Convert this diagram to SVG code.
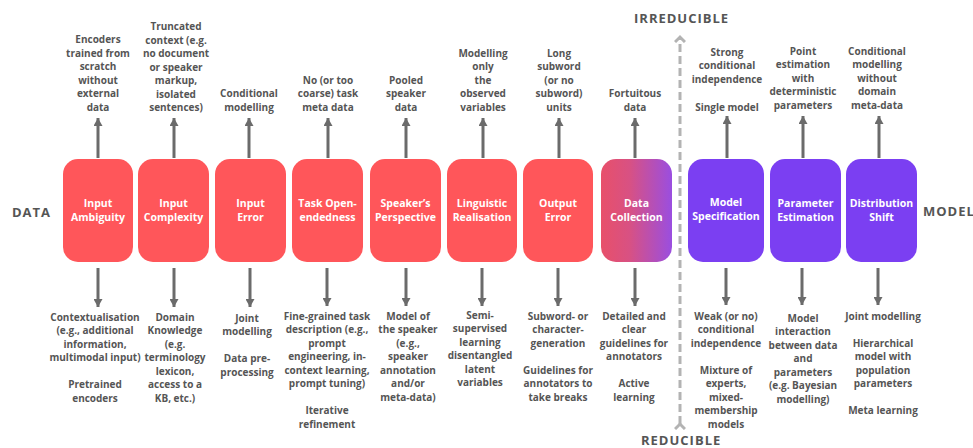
<svg xmlns="http://www.w3.org/2000/svg" width="973" height="448" viewBox="0 0 973 448">
  <style>
    .box { rx: 15; ry: 15; }
    .red { fill: #ff565a; }
    .purple { fill: #7b3ff2; }
    .nt { font-family: "Open Sans", "Liberation Sans", sans-serif; font-weight: 700; font-size: 10.5px; fill: #ffffff; text-anchor: middle; }
    .lb { font-family: "Open Sans", "Liberation Sans", sans-serif; font-weight: 700; font-size: 10px; fill: #555555; text-anchor: middle; }
    .axis { font-family: "Open Sans", "Liberation Sans", sans-serif; font-weight: 700; font-size: 13px; fill: #555555; letter-spacing: 1px; }
    .conn line { stroke: #6b6b6b; stroke-width: 3; marker-end: url(#ah); }
    .divider { stroke: #b3b3b3; stroke-width: 3; stroke-dasharray: 8 4; fill: none; }
  </style>
  <defs>
    <marker id="ah" markerUnits="userSpaceOnUse" markerWidth="10" markerHeight="9" refX="8" refY="4.5" orient="auto">
      <path d="M0,0 L8,4.5 L0,9 z" fill="#6b6b6b"/>
    </marker>
    <marker id="ahLight" markerUnits="userSpaceOnUse" markerWidth="12" markerHeight="12" refX="6" refY="6" orient="auto">
      <path d="M1,1 L6,6 L1,11" fill="none" stroke="#b3b3b3" stroke-width="3"/>
    </marker>
    <linearGradient id="gradCollect" x1="0" y1="0" x2="1" y2="0">
      <stop offset="0" stop-color="#e8506a"/>
      <stop offset="0.4" stop-color="#d85183"/>
      <stop offset="1" stop-color="#9a4ee0"/>
    </linearGradient>
  </defs>

  <!-- axis labels -->
  <text class="axis" x="12" y="217">DATA</text>
  <text class="axis" x="923" y="216">MODEL</text>
  <text class="axis" x="634" y="23">IRREDUCIBLE</text>
  <text class="axis" x="641" y="445">REDUCIBLE</text>

  <!-- reducible / irreducible divider -->
  <g id="divider">
    <line class="divider" x1="680" y1="424" x2="680" y2="37" marker-end="url(#ahLight)" marker-start="url(#ahLight)"/>
  </g>

  <!-- connectors -->
  <g class="conn" id="connectors">
    <line x1="98" y1="158" x2="98" y2="118"/>
    <line x1="174" y1="158" x2="174" y2="118"/>
    <line x1="249" y1="158" x2="249" y2="118"/>
    <line x1="328" y1="158" x2="328" y2="118"/>
    <line x1="406" y1="158" x2="406" y2="118"/>
    <line x1="483" y1="158" x2="483" y2="118"/>
    <line x1="559" y1="158" x2="559" y2="118"/>
    <line x1="635" y1="158" x2="635" y2="118"/>
    <line x1="727" y1="158" x2="727" y2="116"/>
    <line x1="803" y1="158" x2="803" y2="116"/>
    <line x1="879" y1="158" x2="879" y2="116"/>

    <line x1="98" y1="268" x2="98" y2="307"/>
    <line x1="174" y1="268" x2="174" y2="307"/>
    <line x1="250" y1="268" x2="250" y2="307"/>
    <line x1="327" y1="268" x2="327" y2="306"/>
    <line x1="406" y1="268" x2="406" y2="306"/>
    <line x1="482" y1="268" x2="482" y2="306"/>
    <line x1="558" y1="268" x2="558" y2="306"/>
    <line x1="635" y1="268" x2="635" y2="306"/>
    <line x1="726" y1="268" x2="726" y2="305"/>
    <line x1="802" y1="268" x2="802" y2="305"/>
    <line x1="878" y1="268" x2="878" y2="305"/>
  </g>

  <!-- data-side sources -->
  <g id="input-ambiguity">
    <rect class="box red" x="63" y="159" width="70" height="103"/>
    <text class="nt" x="98" y="207">Input<tspan x="98" dy="14">Ambiguity</tspan></text>
    <text class="lb" x="98" y="43">Encoders<tspan x="98" dy="13.5">trained from</tspan><tspan x="98" dy="13.5">scratch</tspan><tspan x="98" dy="13.5">without</tspan><tspan x="98" dy="13.5">external</tspan><tspan x="98" dy="13.5">data</tspan></text>
    <text class="lb" x="95" y="320.5">Contextualisation<tspan x="95" dy="13.5">(e.g., additional</tspan><tspan x="95" dy="13.5">information,</tspan><tspan x="95" dy="13.5">multimodal input)</tspan><tspan x="95" dy="27">Pretrained</tspan><tspan x="95" dy="13.5">encoders</tspan></text>
  </g>

  <g id="input-complexity">
    <rect class="box red" x="138" y="159" width="71" height="103"/>
    <text class="nt" x="173.5" y="207">Input<tspan x="173.5" dy="14">Complexity</tspan></text>
    <text class="lb" x="176" y="30">Truncated<tspan x="176" dy="13.5">context (e.g.</tspan><tspan x="176" dy="13.5">no document</tspan><tspan x="176" dy="13.5">or speaker</tspan><tspan x="176" dy="13.5">markup,</tspan><tspan x="176" dy="13.5">isolated</tspan><tspan x="176" dy="13.5">sentences)</tspan></text>
    <text class="lb" x="175" y="320.5">Domain<tspan x="175" dy="13.5">Knowledge</tspan><tspan x="175" dy="13.5">(e.g.</tspan><tspan x="175" dy="13.5">terminology</tspan><tspan x="175" dy="13.5">lexicon,</tspan><tspan x="175" dy="13.5">access to a</tspan><tspan x="175" dy="13.5">KB, etc.)</tspan></text>
  </g>

  <g id="input-error">
    <rect class="box red" x="215" y="159" width="71" height="103"/>
    <text class="nt" x="250.5" y="207">Input<tspan x="250.5" dy="14">Error</tspan></text>
    <text class="lb" x="249" y="97">Conditional<tspan x="249" dy="13.5">modelling</tspan></text>
    <text class="lb" x="247" y="321.5">Joint<tspan x="247" dy="13.5">modelling</tspan><tspan x="247" dy="27">Data pre-</tspan><tspan x="247" dy="13.5">processing</tspan></text>
  </g>

  <g id="task-open-endedness">
    <rect class="box red" x="292" y="159" width="71" height="103"/>
    <text class="nt" x="327.5" y="207">Task Open-<tspan x="327.5" dy="14">endedness</tspan></text>
    <text class="lb" x="328" y="83.5">No (or too<tspan x="328" dy="13.5">coarse) task</tspan><tspan x="328" dy="13.5">meta data</tspan></text>
    <text class="lb" x="327" y="319.5">Fine-grained  task<tspan x="327" dy="13.5">description (e.g.,</tspan><tspan x="327" dy="13.5">prompt</tspan><tspan x="327" dy="13.5">engineering, in-</tspan><tspan x="327" dy="13.5">context learning,</tspan><tspan x="327" dy="13.5">prompt tuning)</tspan><tspan x="327" dy="27">Iterative</tspan><tspan x="327" dy="13.5">refinement</tspan></text>
  </g>

  <g id="speakers-perspective">
    <rect class="box red" x="370" y="159" width="71" height="103"/>
    <text class="nt" x="405.5" y="207">Speaker’s<tspan x="405.5" dy="14">Perspective</tspan></text>
    <text class="lb" x="406" y="83.5">Pooled<tspan x="406" dy="13.5">speaker</tspan><tspan x="406" dy="13.5">data</tspan></text>
    <text class="lb" x="408" y="319.5">Model of<tspan x="408" dy="13.5">the speaker</tspan><tspan x="408" dy="13.5">(e.g.,</tspan><tspan x="408" dy="13.5">speaker</tspan><tspan x="408" dy="13.5">annotation</tspan><tspan x="408" dy="13.5">and/or</tspan><tspan x="408" dy="13.5">meta-data)</tspan></text>
  </g>

  <g id="linguistic-realisation">
    <rect class="box red" x="447" y="159" width="70" height="103"/>
    <text class="nt" x="482" y="207">Linguistic<tspan x="482" dy="14">Realisation</tspan></text>
    <text class="lb" x="483" y="56.5">Modelling<tspan x="483" dy="13.5">only</tspan><tspan x="483" dy="13.5">the</tspan><tspan x="483" dy="13.5">observed</tspan><tspan x="483" dy="13.5">variables</tspan></text>
    <text class="lb" x="480" y="318.5">Semi-<tspan x="480" dy="13.5">supervised</tspan><tspan x="480" dy="13.5">learning</tspan><tspan x="480" dy="13.5">disentangled</tspan><tspan x="480" dy="13.5">latent</tspan><tspan x="480" dy="13.5">variables</tspan></text>
  </g>

  <g id="output-error">
    <rect class="box red" x="523" y="159" width="70" height="103"/>
    <text class="nt" x="558" y="207">Output<tspan x="558" dy="14">Error</tspan></text>
    <text class="lb" x="559" y="56.5">Long<tspan x="559" dy="13.5">subword</tspan><tspan x="559" dy="13.5">(or no</tspan><tspan x="559" dy="13.5">subword)</tspan><tspan x="559" dy="13.5">units</tspan></text>
    <text class="lb" x="558" y="319.5">Subword- or<tspan x="558" dy="13.5">character-</tspan><tspan x="558" dy="13.5">generation</tspan><tspan x="558" dy="27">Guidelines for</tspan><tspan x="558" dy="13.5">annotators to</tspan><tspan x="558" dy="13.5">take breaks</tspan></text>
  </g>

  <g id="data-collection">
    <rect class="box" x="601" y="159" width="71" height="103" fill="url(#gradCollect)"/>
    <text class="nt" x="636.5" y="207">Data<tspan x="636.5" dy="14">Collection</tspan></text>
    <text class="lb" x="635" y="97">Fortuitous<tspan x="635" dy="13.5">data</tspan></text>
    <text class="lb" x="634" y="319.5">Detailed  and<tspan x="634" dy="13.5">clear</tspan><tspan x="634" dy="13.5">guidelines for</tspan><tspan x="634" dy="13.5">annotators</tspan><tspan x="634" dy="27">Active</tspan><tspan x="634" dy="13.5">learning</tspan></text>
  </g>

  <!-- model-side sources -->
  <g id="model-specification">
    <rect class="box purple" x="688" y="159" width="76" height="103"/>
    <text class="nt" x="726" y="206">Model<tspan x="726" dy="14">Specification</tspan></text>
    <text class="lb" x="727" y="55.5">Strong<tspan x="727" dy="13.5">conditional</tspan><tspan x="727" dy="13.5">independence</tspan><tspan x="727" dy="28">Single model</tspan></text>
    <text class="lb" x="726" y="319.5">Weak (or no)<tspan x="726" dy="13.5">conditional</tspan><tspan x="726" dy="13.5">independence</tspan><tspan x="726" dy="27">Mixture of</tspan><tspan x="726" dy="13.5">experts,</tspan><tspan x="726" dy="13.5">mixed-</tspan><tspan x="726" dy="13.5">membership</tspan><tspan x="726" dy="13.5">models</tspan></text>
  </g>

  <g id="parameter-estimation">
    <rect class="box purple" x="770" y="159" width="71" height="103"/>
    <text class="nt" x="805.5" y="207">Parameter<tspan x="805.5" dy="14">Estimation</tspan></text>
    <text class="lb" x="803" y="54.5">Point<tspan x="803" dy="13.5">estimation</tspan><tspan x="803" dy="13.5">with</tspan><tspan x="803" dy="13.5">deterministic</tspan><tspan x="803" dy="13.5">parameters</tspan></text>
    <text class="lb" x="803" y="321.5">Model<tspan x="803" dy="13.5">interaction</tspan><tspan x="803" dy="13.5">between data</tspan><tspan x="803" dy="13.5">and</tspan><tspan x="803" dy="13.5">parameters</tspan><tspan x="803" dy="13.5">(e.g. Bayesian</tspan><tspan x="803" dy="13.5">modelling)</tspan></text>
  </g>

  <g id="distribution-shift">
    <rect class="box purple" x="846" y="159" width="71" height="103"/>
    <text class="nt" x="881.5" y="207">Distribution<tspan x="881.5" dy="14">Shift</tspan></text>
    <text class="lb" x="877" y="54.5">Conditional<tspan x="877" dy="13.5">modelling</tspan><tspan x="877" dy="13.5">without</tspan><tspan x="877" dy="13.5">domain</tspan><tspan x="877" dy="13.5">meta-data</tspan></text>
    <text class="lb" x="883" y="319.5">Joint modelling<tspan x="883" dy="27">Hierarchical</tspan><tspan x="883" dy="13.5">model with</tspan><tspan x="883" dy="13.5">population</tspan><tspan x="883" dy="13.5">parameters</tspan><tspan x="883" dy="27">Meta learning</tspan></text>
  </g>
</svg>
